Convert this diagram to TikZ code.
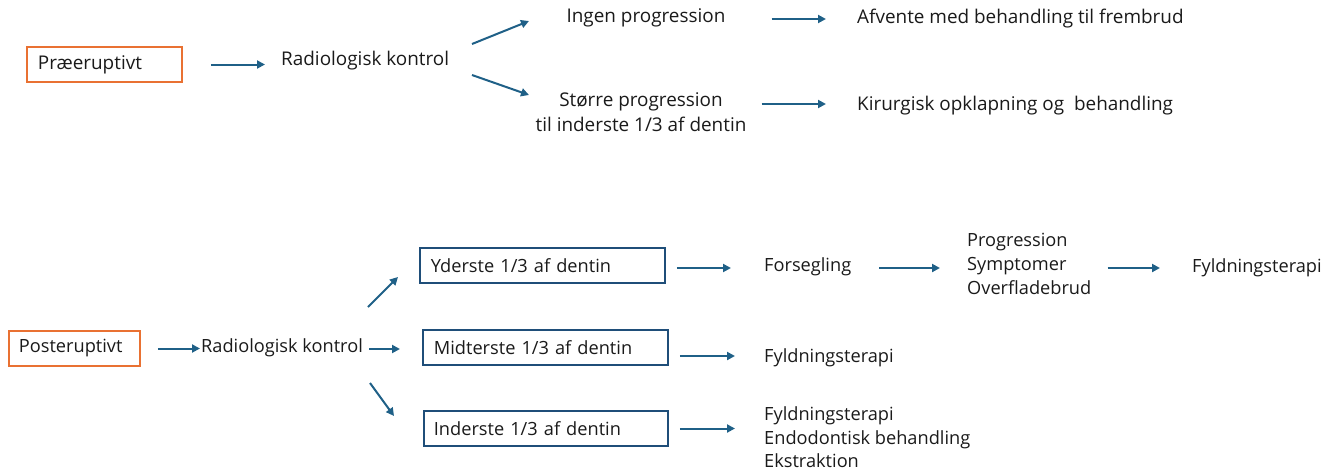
\documentclass[tikz,border=0pt]{standalone}
\usepackage{fontspec}
\setmainfont{Open Sans}
\usetikzlibrary{arrows.meta}
\definecolor{orangeb}{HTML}{E97132}
\definecolor{blueb}{HTML}{1F4E79}
\definecolor{arrowc}{HTML}{1F6087}
\definecolor{txt}{HTML}{1A1A1A}
\tikzset{
  txttop/.style={inner sep=0pt, anchor=west, text=txt, font=\fontsize{18.9}{25}\selectfont, align=left},
  txtbot/.style={inner sep=0pt, anchor=west, text=txt, font=\fontsize{18.2}{24}\selectfont, align=left},
  obox/.style={draw=orangeb, line width=1.8pt, anchor=west, minimum height=35pt, inner ysep=0pt, text=txt, align=left},
  bbox/.style={draw=blueb, line width=1.8pt, anchor=west, minimum height=35pt, inner ysep=0pt, text=txt, align=left},
  arr/.style={draw=arrowc, line width=2pt, -{Triangle[length=8pt,width=8pt]}},
}
\begin{document}
\begin{tikzpicture}[x=1pt,y=-1pt]
\useasboundingbox (0,0) rectangle (1334,472);
% top
\node[obox, font=\fontsize{18.9}{25}\selectfont, text width=133pt, inner xsep=11pt] (pre) at (26,64.5) {Præeruptivt};
\node[txttop] (rk1) at (281,61) {Radiologisk kontrol};
\node[txttop, anchor=center] (ingen) at (646,18) {Ingen progression};
\node[txttop, anchor=center, align=center] (stoerre) at (641,112.5) {Større progression\\til inderste 1/3 af dentin};
\node[txttop] (afv) at (857,19) {Afvente med behandling til frembrud};
\node[txttop] (kir) at (857,106) {Kirurgisk opklapning og\ \ behandling};
\coordinate (u1a) at (472,44); \coordinate (u1b) at (529,21);
\coordinate (d1a) at (472,75); \coordinate (d1b) at (529,95);
\draw[arr, shorten <=28pt, shorten >=16pt] (pre.east) -- (pre.east -| rk1.west);
\draw[arr] (u1a) -- (u1b);
\draw[arr] (d1a) -- (d1b);
\draw[arr, shorten <=46pt, shorten >=31pt] (ingen.east |- afv.west) -- (afv.west);
\draw[arr, shorten <=15pt, shorten >=31pt] (stoerre.east |- kir.west) ++(0,-2) coordinate (kstart) -- (kstart -| kir.west);
% bottom
\node[obox, font=\fontsize{18.2}{24}\selectfont, text width=111pt, inner xsep=10pt] (post) at (8,348.5) {Posteruptivt};
\node[txtbot] (rk2) at (201,348) {Radiologisk kontrol};
\node[bbox, font=\fontsize{18.2}{24}\selectfont, text width=223pt, inner xsep=11pt] (yd) at (419,265.5) {Yderste 1/3 af dentin};
\node[bbox, font=\fontsize{18.2}{24}\selectfont, text width=223pt, inner xsep=11pt] (mid) at (422,347.5) {Midterste 1/3 af dentin};
\node[bbox, font=\fontsize{18.2}{24}\selectfont, text width=224pt, inner xsep=10pt] (ind) at (423,428.5) {Inderste 1/3 af dentin};
\node[txtbot] (fors) at (764,267) {Forsegling};
\node[txtbot] (prog) at (967,263.5) {Progression\\Symptomer\\Overfladebrud};
\node[txtbot] (fyl1) at (1192,268) {Fyldningsterapi};
\node[txtbot] (fyl2) at (764,358) {Fyldningsterapi};
\node[txtbot, font=\fontsize{18.2}{23.5}\selectfont] (fyl3) at (764,437.5) {Fyldningsterapi\\Endodontisk behandling\\Ekstraktion};
\coordinate (u2a) at (368,307); \coordinate (u2b) at (398,277);
\coordinate (d2a) at (370,383); \coordinate (d2b) at (394,416);
\draw[arr, shorten <=17pt, shorten >=1pt] (post.east) -- (post.east -| rk2.west);
\draw[arr, shorten <=6pt, shorten >=22pt] (rk2.east) ++(0,1) coordinate (m2) -- (m2 -| mid.west);
\draw[arr] (u2a) -- (u2b);
\draw[arr] (d2a) -- (d2b);
\draw[arr, shorten <=11pt, shorten >=33pt] (yd.east) ++(0,2.5) coordinate (y2) -- (y2 -| fors.west);
\draw[arr, shorten <=28pt, shorten >=27pt] (fors.east) ++(0,1) coordinate (f2) -- (f2 -| prog.west);
\draw[arr, shorten <=16pt, shorten >=32pt] (prog.east) ++(0,4.5) coordinate (p2) -- (p2 -| fyl1.west);
\draw[arr, shorten <=11pt, shorten >=29pt] (mid.east) ++(0,8.5) coordinate (mm2) -- (mm2 -| fyl2.west);
\draw[arr, shorten <=11pt, shorten >=29pt] (ind.east) -- (ind.east -| fyl3.west);
\end{tikzpicture}
\end{document}
